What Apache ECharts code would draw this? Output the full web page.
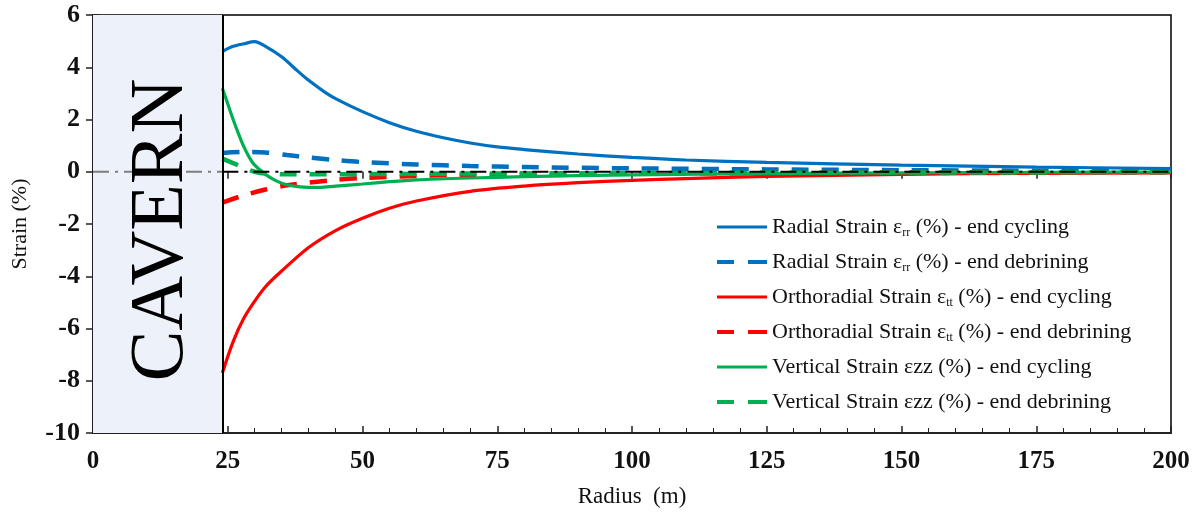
<!DOCTYPE html>
<html>
<head>
<meta charset="utf-8">
<script src="https://cdn.jsdelivr.net/npm/echarts@6/dist/echarts.min.js"></script>
<style>
  html, body { margin: 0; padding: 0; background: #fff; }
  #chart { width: 1199px; height: 514px; }
</style>
</head>
<body>
<div id="chart"></div>
<script>
// radius (m) and strain (%)
const radialCycX = [24, 26, 28, 30, 32, 35, 38, 40, 43, 45, 50, 55, 60, 65, 70, 75, 80, 90, 100, 110, 125, 150, 175, 200];
const radialCycY = [4.6, 4.8, 4.9, 4.98, 4.8, 4.4, 3.85, 3.5, 3.05, 2.8, 2.3, 1.88, 1.55, 1.3, 1.1, 0.95, 0.85, 0.68, 0.55, 0.45, 0.36, 0.25, 0.18, 0.12];

const radialDebX = [24, 28, 32, 36, 40, 45, 50, 60, 70, 80, 100, 125, 150, 175, 200];
const radialDebY = [0.72, 0.76, 0.74, 0.64, 0.55, 0.45, 0.37, 0.28, 0.22, 0.18, 0.13, 0.09, 0.06, 0.04, 0.03];

const orthoCycX = [24, 26, 28, 30, 32, 35, 40, 45, 50, 55, 60, 70, 80, 90, 100, 110, 125, 150, 175, 200];
const orthoCycY = [-7.7, -6.5, -5.6, -4.95, -4.4, -3.8, -2.9, -2.25, -1.78, -1.4, -1.12, -0.75, -0.55, -0.42, -0.33, -0.26, -0.18, -0.1, -0.06, -0.04];

const orthoDebX = [24, 28, 32, 36, 40, 45, 50, 60, 70, 85, 100, 125, 150, 200];
const orthoDebY = [-1.18, -0.9, -0.68, -0.52, -0.42, -0.31, -0.24, -0.16, -0.12, -0.09, -0.07, -0.05, -0.03, -0.02];

const vertCycX = [24, 25, 26, 27, 28, 29, 30, 32, 34, 36, 38, 40, 42, 45, 50, 55, 60, 70, 80, 100, 125, 150, 175, 200];
const vertCycY = [3.2, 2.6, 2.0, 1.45, 0.95, 0.55, 0.25, -0.1, -0.35, -0.5, -0.57, -0.6, -0.6, -0.55, -0.47, -0.38, -0.31, -0.24, -0.19, -0.12, -0.07, -0.04, -0.02, -0.01];

const vertDebX = [24, 26, 28, 30, 32, 36, 40, 50, 60, 80, 100, 150, 200];
const vertDebY = [0.5, 0.33, 0.15, 0.0, -0.07, -0.1, -0.1, -0.09, -0.08, -0.06, -0.05, -0.03, -0.02];

const seriesNames = [
  'Radial Strain εrr (%) - end cycling',
  'Radial Strain εrr (%) - end debrining',
  'Orthoradial Strain εtt (%) - end cycling',
  'Orthoradial Strain εtt (%) - end debrining',
  'Vertical Strain εzz (%) - end cycling',
  'Vertical Strain εzz (%) - end debrining'
];
const seriesDashed = [false, true, false, true, false, true];

const cavernEdge = 24;
const zeroCavern = [[0, 0], [cavernEdge, 0]];
const zeroRock = [[cavernEdge, 0], [200, 0]];

const xTicks = [0, 25, 50, 75, 100, 125, 150, 175, 200];
const yTicks = [-10, -8, -6, -4, -2, 0, 2, 4, 6];

const zip = (xs, ys) => xs.map((x, i) => [x, ys[i]]);

const serif = '"Liberation Serif", "Times New Roman", serif';
const BLUE = '#0070C0', RED = '#FF0000', GREEN = '#00B050';

// legend swatches: plain bar or two dashes
const ICON_SOLID = 'path://M0,0h50v3h-50z';
const ICON_DASH = 'path://M0,0h17v4h-17zM31,0h19v4h-19z';

const curve = (name, xs, ys, color, dashed) => ({
  name,
  type: 'line',
  data: zip(xs, ys),
  symbol: 'none',
  smooth: 0.3,
  z: 3,
  lineStyle: dashed
    ? { color, width: 4.5, type: [17, 13] }
    : { color, width: 3.2, type: 'solid' },
  itemStyle: { color }
});

const chart = echarts.init(document.getElementById('chart'), null, { renderer: 'canvas' });

const option = {
  animation: false,
  backgroundColor: '#ffffff',
  grid: {
    left: 93, right: 28, top: 15, bottom: 81,
    show: true, borderColor: '#000', borderWidth: 1.5, backgroundColor: 'transparent'
  },
  legend: {
    data: seriesNames.map((n, i) => ({ name: n, icon: seriesDashed[i] ? ICON_DASH : ICON_SOLID })),
    orient: 'vertical',
    left: 712,
    top: 210,
    itemWidth: 50,
    itemHeight: 14,
    itemGap: 11,
    textStyle: {
      fontFamily: serif, fontSize: 22, color: '#111', lineHeight: 24,
      rich: { s: { fontFamily: serif, fontSize: 12, color: '#111', verticalAlign: 'bottom', padding: [8, 0, 0, 0] } }
    },
    formatter: name => name.replace(/ε(rr|tt)/, 'ε{s|$1}')
  },
  xAxis: [{
    type: 'value', min: 0, max: 200, interval: 25,
    name: 'Radius  (m)', nameLocation: 'middle', nameGap: 52,
    nameTextStyle: { fontFamily: serif, fontSize: 23, color: '#111' },
    axisLine: { onZero: false, lineStyle: { color: '#222', width: 2 } },
    axisTick: { inside: true, length: 7, lineStyle: { color: '#222', width: 1.5 } },
    minorTick: { show: true, splitNumber: 5, length: 5, lineStyle: { color: '#222', width: 1 } },
    axisLabel: { fontFamily: serif, fontSize: 25, fontWeight: 'bold', color: '#111', margin: 16,
      formatter: v => xTicks.includes(v) ? String(v) : '' },
    splitLine: { show: false }
  }, {
    type: 'value', min: 0, max: 200, interval: 25, position: 'bottom',
    axisLine: { show: false },
    axisTick: { inside: false, length: 7, lineStyle: { color: '#222', width: 1.5 } },
    axisLabel: { show: false }, splitLine: { show: false }
  }],
  yAxis: [{
    type: 'value', min: -10, max: 6, interval: 2,
    name: 'Strain (%)', nameLocation: 'middle', nameGap: 62,
    nameTextStyle: { fontFamily: serif, fontSize: 22, color: '#111' },
    axisLine: { onZero: false, lineStyle: { color: '#222', width: 2 } },
    axisTick: { inside: true, length: 7, lineStyle: { color: '#222', width: 1.5 } },
    minorTick: { show: true, splitNumber: 5, length: 5, lineStyle: { color: '#222', width: 1 } },
    axisLabel: { fontFamily: serif, fontSize: 26, fontWeight: 'bold', color: '#111', margin: 13,
      formatter: v => yTicks.includes(v) ? String(v) : '' },
    splitLine: { show: false }
  }, {
    type: 'value', min: -10, max: 6, interval: 2, position: 'left',
    axisLine: { show: false },
    axisTick: { show: true, inside: false, length: 7, lineStyle: { color: '#222', width: 1.5 } },
    axisLabel: { show: false }, splitLine: { show: false }
  }],
  graphic: [{
    type: 'text',
    x: 162, y: 230,
    rotation: Math.PI / 2,
    z: 10,
    style: {
      text: 'CAVERN', fontFamily: serif, fontSize: 76, fill: '#000',
      align: 'center', verticalAlign: 'middle'
    }
  }],
  series: [
    {
      name: 'cavern zero', type: 'line', data: zeroCavern, symbol: 'none', z: 4,
      lineStyle: { color: '#7F7F7F', width: 2, type: [16, 6, 3, 6] },
      markArea: {
        silent: true,
        itemStyle: { color: '#EDF2FA' },
        data: [[{ xAxis: 0 }, { xAxis: cavernEdge }]]
      },
      markLine: {
        silent: true, symbol: 'none', label: { show: false },
        lineStyle: { color: '#000', width: 2, type: 'solid' },
        data: [{ xAxis: cavernEdge }]
      }
    },
    curve(seriesNames[0], radialCycX, radialCycY, BLUE, false),
    curve(seriesNames[1], radialDebX, radialDebY, BLUE, true),
    curve(seriesNames[2], orthoCycX, orthoCycY, RED, false),
    curve(seriesNames[3], orthoDebX, orthoDebY, RED, true),
    curve(seriesNames[4], vertCycX, vertCycY, GREEN, false),
    curve(seriesNames[5], vertDebX, vertDebY, GREEN, true),
    {
      name: 'rock zero', type: 'line', data: zeroRock, symbol: 'none', z: 5,
      lineStyle: { color: '#000', width: 2, type: [16, 6, 3, 6] }
    }
  ]
};

chart.setOption(option);
window.addEventListener('resize', () => chart.resize());
</script>
</body>
</html>
